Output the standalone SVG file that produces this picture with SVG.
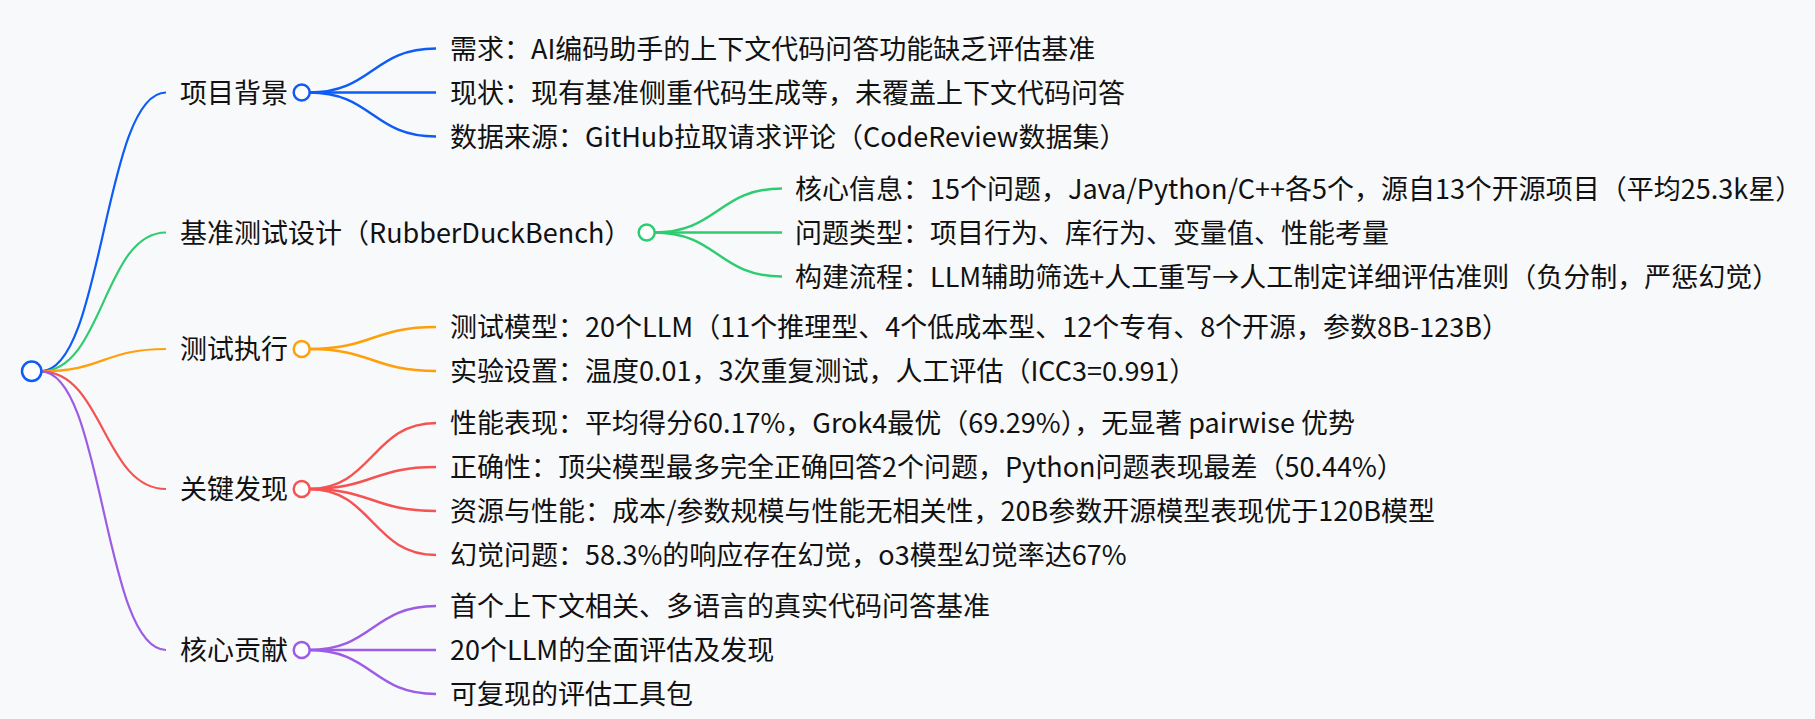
<svg xmlns="http://www.w3.org/2000/svg" width="1815" height="719" viewBox="0 0 1815 719">
<style>
text{font-family:"Noto Sans CJK SC","Microsoft YaHei",sans-serif;font-size:27px;fill:#111111}
.e1{fill:none;stroke-width:2.2}
.e2{fill:none;stroke-width:2.5}
.dot{fill:#ffffff;stroke-width:2.5}
.cb{stroke:#0d5cf5}
.cg{stroke:#2ecc71}
.co{stroke:#ff9f0a}
.cr{stroke:#f55252}
.cp{stroke:#9d5ce5}
</style>
<rect width="1815" height="719" fill="#f8f9fb"/>
<g id="connectors">
<path class="e1 cb" d="M41 371.3C103.5 371.3 103.5 92.5 166 92.5"/>
<path class="e1 cg" d="M41 371.3C103.5 371.3 103.5 232.5 166 232.5"/>
<path class="e1 co" d="M41 371.3C103.5 371.3 103.5 349 166 349"/>
<path class="e1 cr" d="M41 371.3C103.5 371.3 103.5 489 166 489"/>
<path class="e1 cp" d="M41 371.3C103.5 371.3 103.5 650 166 650"/>
<path class="e2 cb" d="M309 92.5C372.5 92.5 372.5 48.5 436 48.5"/>
<path class="e2 cb" d="M309 92.5L436 92.5"/>
<path class="e2 cb" d="M309 92.5C372.5 92.5 372.5 136.5 436 136.5"/>
<path class="e2 cg" d="M654 232.5C718 232.5 718 188.5 782 188.5"/>
<path class="e2 cg" d="M654 232.5L782 232.5"/>
<path class="e2 cg" d="M654 232.5C718 232.5 718 276.5 782 276.5"/>
<path class="e2 co" d="M309 349C372.5 349 372.5 327 436 327"/>
<path class="e2 co" d="M309 349C372.5 349 372.5 371 436 371"/>
<path class="e2 cr" d="M309 489C372.5 489 372.5 423 436 423"/>
<path class="e2 cr" d="M309 489C372.5 489 372.5 467 436 467"/>
<path class="e2 cr" d="M309 489C372.5 489 372.5 511 436 511"/>
<path class="e2 cr" d="M309 489C372.5 489 372.5 555 436 555"/>
<path class="e2 cp" d="M309 650C372.5 650 372.5 606 436 606"/>
<path class="e2 cp" d="M309 650L436 650"/>
<path class="e2 cp" d="M309 650C372.5 650 372.5 694 436 694"/>
</g>
<g id="root"><circle class="dot cb" cx="31.7" cy="371.3" r="9.7"/></g>
<g id="n1"><text x="180" y="102.5">项目背景</text><circle class="dot cb" cx="301.7" cy="92.5" r="8"/></g>
<g id="n1-1"><text x="450" y="58.5">需求：AI编码助手的上下文代码问答功能缺乏评估基准</text></g>
<g id="n1-2"><text x="450" y="102.5">现状：现有基准侧重代码生成等，未覆盖上下文代码问答</text></g>
<g id="n1-3"><text x="450" y="146.5">数据来源：GitHub拉取请求评论（CodeReview数据集）</text></g>
<g id="n2"><text x="180" y="242.5">基准测试设计（RubberDuckBench）</text><circle class="dot cg" cx="646.7" cy="232.5" r="8"/></g>
<g id="n2-1"><text x="795" y="198.5">核心信息：15个问题，Java/Python/C++各5个，源自13个开源项目（平均25.3k星）</text></g>
<g id="n2-2"><text x="795" y="242.5">问题类型：项目行为、库行为、变量值、性能考量</text></g>
<g id="n2-3"><text x="795" y="286.5">构建流程：LLM辅助筛选+人工重写→人工制定详细评估准则（负分制，严惩幻觉）</text></g>
<g id="n3"><text x="180" y="359">测试执行</text><circle class="dot co" cx="301.7" cy="349" r="8"/></g>
<g id="n3-1"><text x="450" y="337">测试模型：20个LLM（11个推理型、4个低成本型、12个专有、8个开源，参数8B-123B）</text></g>
<g id="n3-2"><text x="450" y="381">实验设置：温度0.01，3次重复测试，人工评估（ICC3=0.991）</text></g>
<g id="n4"><text x="180" y="499">关键发现</text><circle class="dot cr" cx="301.7" cy="489" r="8"/></g>
<g id="n4-1"><text x="450" y="433">性能表现：平均得分60.17%，Grok4最优（69.29%），无显著 pairwise 优势</text></g>
<g id="n4-2"><text x="450" y="477">正确性：顶尖模型最多完全正确回答2个问题，Python问题表现最差（50.44%）</text></g>
<g id="n4-3"><text x="450" y="521">资源与性能：成本/参数规模与性能无相关性，20B参数开源模型表现优于120B模型</text></g>
<g id="n4-4"><text x="450" y="565">幻觉问题：58.3%的响应存在幻觉，o3模型幻觉率达67%</text></g>
<g id="n5"><text x="180" y="660">核心贡献</text><circle class="dot cp" cx="301.7" cy="650" r="8"/></g>
<g id="n5-1"><text x="450" y="616">首个上下文相关、多语言的真实代码问答基准</text></g>
<g id="n5-2"><text x="450" y="660">20个LLM的全面评估及发现</text></g>
<g id="n5-3"><text x="450" y="704">可复现的评估工具包</text></g>
</svg>
